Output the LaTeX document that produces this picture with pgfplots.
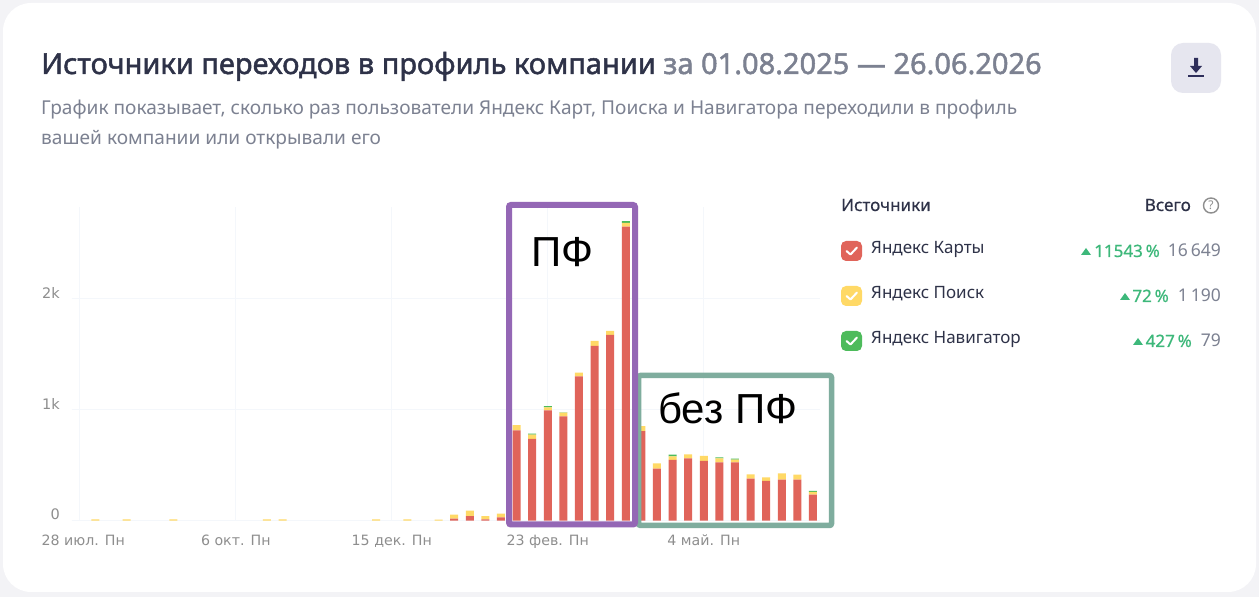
\documentclass[border=0pt]{standalone}
\usepackage{pgfplots}
\pgfplotsset{compat=1.18}
\usepackage{pgfplotstable}
\usepackage{fontspec}
\setmainfont{Noto Sans}
\newfontfamily\titlef[FakeBold=1.6]{Noto Sans}
\newfontfamily\headf[FakeBold=0.6]{Noto Sans}
\newfontfamily\tickf{DejaVu Sans}
\newfontfamily\boxf{Liberation Sans}
\definecolor{bgc}{HTML}{F3F3F6}
\definecolor{dark}{HTML}{2E3248}
\definecolor{greyt}{HTML}{7C8191}
\definecolor{tickc}{HTML}{8E8E8E}
\definecolor{gridc}{HTML}{F4F7FB}
\definecolor{redc}{HTML}{E0645A}
\definecolor{yelc}{HTML}{FFD966}
\definecolor{grec}{HTML}{4DBB5B}
\definecolor{upc}{HTML}{3DB87A}
\definecolor{purp}{HTML}{9467B5}
\definecolor{sage}{HTML}{7FAD9E}
\definecolor{btn}{HTML}{E6E6EF}
\definecolor{icon}{HTML}{2E2E5A}
\pgfplotstableread{
x red yel gre
1 0 12 0
3 0 12 0
6 0 12 0
12 0 12 0
13 0 12 0
19 0 12 0
21 0 12 0
23 0 10 0
24 18 36 0
25 42 48 0
26 12 30 0
27 30 33 0
28 814 48 0
29 736 39 9
30 994 27 12
31 940 33 2
32 1300 33 0
33 1575 45 0
34 1675 36 0
35 2650 33 15
36 808 45 0
37 469 48 0
38 547 33 15
39 562 36 0
40 538 45 0
41 526 36 9
42 526 24 10
43 379 39 0
44 358 33 0
45 370 57 0
46 370 45 0
47 235 24 10
}\datatable
\newcommand{\fs}[1]{\fontsize{#1pt}{#1pt}\selectfont}
\begin{document}
\begin{tikzpicture}[x=1pt,y=1pt]
\path[use as bounding box] (0,0) rectangle (1259,597);
\fill[bgc] (0,0) rectangle (1259,597);
\fill[white,rounded corners=28pt] (3,5) rectangle (1256,594);
\begin{axis}[
  at={(72pt,76.3pt)}, anchor=south west,
  scale only axis, width=748pt, height=313.7pt,
  xmin=-0.5, xmax=47.45, ymin=0, ymax=2826,
  ybar stacked, bar width=8pt,
  axis line style={draw=none},
  major tick length=0pt,
  grid=major, grid style={gridc,line width=1pt},
  xtick={0,10,20,30,40},
  xticklabels={\hspace{7pt}28 июл. Пн,6 окт. Пн,15 дек. Пн,23 фев. Пн,4 май. Пн},
  ytick={0,1000,2000},
  yticklabels={0,1k,2k},
  xticklabel style={font=\tickf\fs{14.2},text=tickc,anchor=north,yshift=-12pt,inner sep=2pt},
  yticklabel style={font=\tickf\fs{14.5},text=tickc,anchor=east,xshift=-12pt,yshift=6pt,inner sep=0pt},
  scaled y ticks=false,
]
\addplot[fill=redc,draw=none] table[x=x,y=red]{\datatable};
\addplot[fill=yelc,draw=none] table[x=x,y=yel]{\datatable};
\addplot[fill=grec,draw=none] table[x=x,y=gre]{\datatable};
\end{axis}
\begin{scope}[yshift=597pt,y=-1pt]
\node[anchor=base west,inner sep=0pt,text=dark] at (41,74) {\titlef\fs{29}Источники переходов в профиль компании \textcolor{greyt}{за 01.08.2025 — 26.06.2026}};
\node[anchor=base west,inner sep=0pt,text=greyt] at (41,115) {\fs{19.1}График показывает, сколько раз пользователи Яндекс Карт, Поиска и Навигатора переходили в профиль};
\node[anchor=base west,inner sep=0pt,text=greyt] at (41,145) {\fs{19.1}вашей компании или открывали его};
% button
\fill[btn,rounded corners=12pt] (1171,43) rectangle (1221,93);
\fill[icon] (1194,58) -- (1198,58) -- (1198,66) -- (1202,66) -- (1196,73) -- (1190,66) -- (1194,66) -- cycle;
\fill[icon] (1188,75.5) rectangle (1204,77);
% boxes
\draw[sage,line width=5.5pt,rounded corners=2pt] (638.5,375.5) rectangle (831.5,525.5);
\draw[purp,line width=6pt,rounded corners=2pt] (509,205) rectangle (635,524.5);
\node[anchor=base west,inner sep=0pt,text=black] at (531.5,267) {\boxf\fs{42}ПФ};
\node[anchor=base west,inner sep=0pt,text=black] at (658,424) {\boxf\fs{42}без ПФ};
% legend
\node[anchor=base west,inner sep=0pt,text=dark] at (841,211) {\headf\fs{17}Источники};
\node[anchor=base east,inner sep=0pt,text=dark] at (1191,211) {\headf\fs{17}Всего};
\draw[tickc,line width=1.4pt] (1211,205.5) circle (7.5pt);
\node[inner sep=0pt,text=tickc] at (1211,205.5) {\fs{12}?};
\foreach \yy/\cc/\tt/\pp/\vv/\tx in {251/redc/Яндекс Карты/11543~\%/16\,649/1086,296/yelc/Яндекс Поиск/72~\%/1\,190/1125,341/grec/Яндекс Навигатор/427~\%/79/1138}{
  \fill[\cc,rounded corners=5pt] (841,\yy-10) rectangle (862,\yy+10);
  \draw[white,line width=2pt,line cap=round,line join=round] (846.5,\yy) -- (850.5,\yy+3.5) -- (857,\yy-3.5);
  \node[anchor=base west,inner sep=0pt,text=dark] at (871,\yy+3) {\fs{17}\tt};
  \node[anchor=base east,inner sep=0pt,text=greyt] at (1221,\yy+6) {\fs{17.5}\vv};
  \fill[upc] (\tx-5,\yy+4) -- (\tx+5,\yy+4) -- (\tx,\yy-3) -- cycle;
}
\node[anchor=base east,inner sep=0pt,text=upc] at (1160,257) {\headf\fs{17}11543\,\%};
\node[anchor=base east,inner sep=0pt,text=upc] at (1169,302) {\headf\fs{17}72\,\%};
\node[anchor=base east,inner sep=0pt,text=upc] at (1192,347) {\headf\fs{17}427\,\%};
\end{scope}
\end{tikzpicture}
\end{document}
